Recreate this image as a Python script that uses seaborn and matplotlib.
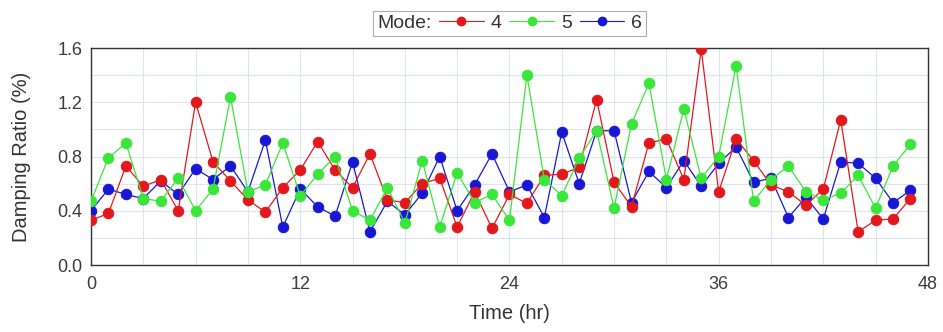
import numpy as np
import pandas as pd
import seaborn as sns
import matplotlib
matplotlib.use("Agg")
import matplotlib.pyplot as plt
from matplotlib.lines import Line2D
from matplotlib.offsetbox import HPacker
from matplotlib.ticker import MultipleLocator

# Hourly damping ratios (%) for three oscillation modes
hours = list(range(48))
mode4 = [0.33, 0.38, 0.73, 0.58, 0.63, 0.40, 1.20, 0.76, 0.62, 0.48,
         0.39, 0.57, 0.70, 0.91, 0.70, 0.57, 0.82, 0.48, 0.46, 0.60,
         0.64, 0.28, 0.54, 0.27, 0.52, 0.455, 0.66, 0.67, 0.72, 1.22,
         0.61, 0.43, 0.90, 0.93, 0.63, 1.59, 0.54, 0.93, 0.77, 0.59,
         0.54, 0.44, 0.56, 1.07, 0.245, 0.33, 0.34, 0.49]
mode5 = [0.47, 0.79, 0.90, 0.49, 0.47, 0.64, 0.40, 0.56, 1.24, 0.54,
         0.59, 0.90, 0.51, 0.67, 0.80, 0.40, 0.33, 0.57, 0.31, 0.77,
         0.28, 0.68, 0.46, 0.52, 0.33, 1.40, 0.63, 0.51, 0.79, 0.99,
         0.42, 1.04, 1.34, 0.63, 1.15, 0.64, 0.80, 1.47, 0.47, 0.63,
         0.73, 0.54, 0.48, 0.53, 0.66, 0.42, 0.73, 0.89]
mode6 = [0.40, 0.56, 0.52, 0.49, 0.62, 0.52, 0.71, 0.63, 0.73, 0.54,
         0.92, 0.28, 0.56, 0.43, 0.36, 0.76, 0.245, 0.47, 0.37, 0.53,
         0.80, 0.40, 0.59, 0.82, 0.54, 0.59, 0.35, 0.98, 0.60, 0.99,
         0.99, 0.46, 0.69, 0.57, 0.77, 0.58, 0.75, 0.87, 0.61, 0.64,
         0.35, 0.50, 0.34, 0.76, 0.75, 0.64, 0.46, 0.55]

mode_labels = ["4", "5", "6"]
mode_colors = {"4": "#e3181d", "5": "#3ae63a", "6": "#1818d4"}
mode_z = {"6": 3, "4": 4, "5": 5}

df = pd.DataFrame({
    "Time": hours * 3,
    "Damping": mode4 + mode5 + mode6,
    "Mode": ["4"] * 48 + ["5"] * 48 + ["6"] * 48,
})

sns.set_style("white")
plt.rcParams["font.family"] = ["Liberation Sans", "DejaVu Sans"]

fig = plt.figure(figsize=(9.43, 3.32), dpi=100)
ax = fig.add_axes([0.0965, 0.2018, 0.8875, 0.6536])

for m in ["6", "4", "5"]:
    sns.lineplot(data=df[df["Mode"] == m], x="Time", y="Damping",
                 color=mode_colors[m], marker="o", markersize=7.5,
                 markeredgecolor=mode_colors[m], linewidth=0.9,
                 ax=ax, zorder=mode_z[m], legend=False)

ax.set_xlim(0, 48)
ax.set_ylim(0, 1.6)
ax.xaxis.set_major_locator(MultipleLocator(12))
ax.xaxis.set_minor_locator(MultipleLocator(3))
ax.yaxis.set_major_locator(MultipleLocator(0.4))
ax.yaxis.set_minor_locator(MultipleLocator(0.2))
ax.set_yticklabels([f"{v:.1f}" for v in ax.get_yticks()])
ax.grid(which="both", color="#dde6f0", linewidth=0.8)
ax.set_axisbelow(True)

tick_color = "#3c3c3c"
ax.tick_params(axis="x", which="major", pad=8)
ax.tick_params(axis="y", which="major", pad=6)
ax.tick_params(which="major", direction="in", length=4, width=0.8,
               colors="#444444", labelcolor=tick_color, labelsize=13,
               top=False, right=False)
ax.tick_params(which="minor", direction="in", length=2.5, width=0.6,
               colors="#444444")
for side in ["left", "right", "top", "bottom"]:
    ax.spines[side].set_color("#333333")
    ax.spines[side].set_linewidth(1.0)
    ax.spines[side].set_visible(True)

ax.set_xlabel("Time (hr)", fontsize=14.5, color="#333333", labelpad=8)
ax.set_ylabel("Damping Ratio (%)", fontsize=14.5, color="#333333",
              labelpad=19)

handles = [Line2D([], [], color=mode_colors[m], marker="o", markersize=6,
                  markeredgecolor=mode_colors[m], linewidth=0.8)
           for m in mode_labels]
leg = ax.legend(handles, mode_labels, title="Mode:", ncol=3,
                loc="lower center", bbox_to_anchor=(0.5, 1.055),
                fontsize=14, title_fontsize=14, frameon=True,
                fancybox=False, edgecolor="#999999", handlelength=2.3,
                handletextpad=0.35, columnspacing=0.4, borderpad=0.1,
                borderaxespad=0)
leg.get_frame().set_linewidth(0.8)
for t in leg.get_texts():
    t.set_color("#333333")
leg.get_title().set_color("#333333")

# place the "Mode:" title inline, to the left of the entries
fs = leg._fontsize
inline_box = HPacker(pad=0.2 * fs, sep=0.4 * fs, align="center",
                     children=[leg._legend_title_box, leg._legend_handle_box])
inline_box.set_figure(fig)
inline_box.axes = ax
leg._legend_box = inline_box
leg._set_loc(leg._loc)

fig.savefig("out.png", dpi=100)
